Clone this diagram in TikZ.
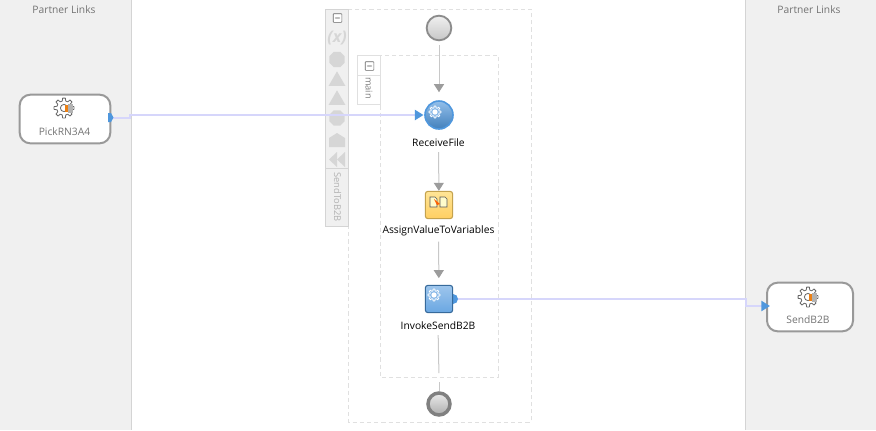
\documentclass[tikz,border=0pt]{standalone}
\usepackage{fontspec}
\setmainfont{Open Sans}
\usetikzlibrary{arrows.meta,shapes.geometric}
\definecolor{panelbg}{HTML}{F0F0F0}
\definecolor{panelline}{HTML}{D4D4D4}
\definecolor{dashline}{HTML}{E0E0E0}
\definecolor{wire}{HTML}{D6D6FB}
\definecolor{wiretip}{HTML}{4F97DD}
\definecolor{flowline}{HTML}{C8C8C8}
\definecolor{flowtip}{HTML}{9C9C9C}
\definecolor{icongray}{HTML}{D6D6D6}
\definecolor{assignedge}{HTML}{C4A24E}
\definecolor{assigntop}{HTML}{FFE596}
\definecolor{assignbot}{HTML}{FFCF62}
\tikzset{
  x=0.75pt,y=-0.75pt,
  panel/.style={fill=panelbg,draw=none},
  sideline/.style={draw=panelline,line width=0.75pt},
  scopebox/.style={draw=dashline,line width=0.7pt,dash pattern=on 3.2pt off 2.2pt},
  tabbox/.style={draw=panelline,fill=panelbg,line width=0.75pt},
  tabwhite/.style={draw=dashline,fill=white,line width=0.75pt},
  linkbox/.style={draw=black!40,line width=1.5pt,rounded corners=8pt,fill=white,minimum width=68pt,minimum height=36.5pt,inner sep=0pt},
  txt/.style={font=\fontsize{7.7pt}{9pt}\selectfont,text=black,inner sep=0pt},
  graytxt/.style={font=\fontsize{7.7pt}{9pt}\selectfont,text=black!55,inner sep=0pt},
  sidetxt/.style={font=\fontsize{7pt}{9pt}\selectfont,text=black!30,inner sep=0pt,rotate=-90},
  startev/.style={circle,draw=black!45,line width=1.4pt,top color=black!6,bottom color=black!22,minimum size=18.5pt,inner sep=0pt},
  endev/.style={circle,draw=black!50,line width=2.6pt,top color=black!8,bottom color=black!32,minimum size=16.5pt,inner sep=0pt},
  recv/.style={circle,draw=wiretip,line width=1.2pt,top color=wiretip!62,bottom color=wiretip!85!black,minimum size=21pt,inner sep=0pt},
  invokebox/.style={draw=wiretip!70!black,line width=0.8pt,rounded corners=2pt,top color=wiretip!55,bottom color=wiretip!85,minimum size=20.5pt,inner sep=0pt},
  assignbox/.style={draw=assignedge,line width=0.8pt,rounded corners=2pt,top color=assigntop,bottom color=assignbot,minimum size=20.5pt,inner sep=0pt},
  portdot/.style={circle,fill=wiretip,draw=none,minimum size=7.5pt,inner sep=0pt},
  flow/.style={draw=flowline,line width=0.75pt},
  flowarrow/.style={flow,-{Triangle[width=7.5pt,length=6pt,color=flowtip]}},
  wireline/.style={draw=wire,line width=2pt},
  wirearrow/.style={wireline,-{Triangle[width=7.5pt,length=6.5pt,color=wiretip]}},
  minusbox/.style={draw=black!60,fill=white,line width=0.5pt,minimum size=6.5pt,inner sep=0pt,rounded corners=0.5pt,path picture={\fill[black!70] ([xshift=-2pt,yshift=-0.35pt]path picture bounding box.center) rectangle ++(4pt,0.7pt);}},
  sideicon/.style={fill=icongray,draw=none,inner sep=0pt},
}
\newcommand{\gearshape}[5]{% x, y, outer radius, draw colour, fill colour
  \begin{scope}[shift={(#1,#2)}]
  \draw[draw=#4,fill=#5,line width=0.6pt,line join=round]
    (-14:#3*0.72)
    \foreach \a in {0,45,...,315}{ -- ({\a-14}:#3*0.72) -- ({\a-8}:#3) -- ({\a+8}:#3) -- ({\a+14}:#3*0.72)} -- cycle;
  \draw[draw=#4,fill=white,line width=0.6pt] (0,0) circle[radius=#3*0.36];
  \end{scope}
}
\begin{document}
\begin{tikzpicture}
\useasboundingbox (0,0) rectangle (876,430);
\fill[white] (0,0) rectangle (876,430);
\fill[panel] (0,0) rectangle (131,430);
\fill[panel] (745,0) rectangle (876,430);
\draw[sideline] (131,0) -- (131,430);
\draw[sideline] (745,0) -- (745,430);
\node[graytxt] (plleft) at (64,9.5) {Partner Links};
\node[graytxt] (plright) at (809,9.5) {Partner Links};

% scopes
\draw[scopebox] (348,9) rectangle (531,422);
\draw[tabbox] (325,9) rectangle (348,226);
\draw[sideline] (325,168) -- (348,168);
\node[sidetxt] (scopename) at (337.5,197) {SendToB2B};
\draw[scopebox] (380,55) rectangle (498,377);
\draw[tabwhite] (357,55) rectangle (380,104);
\draw[dashline,line width=0.75pt] (357,75) -- (380,75);
\node[sidetxt,text=black!50] (mainname) at (369,88) {main};
\node[minusbox] (minusa) at (337.5,18) {};
\node[minusbox] (minusb) at (369.5,66) {};

% sidebar icons
\node[font=\bfseries\itshape\fontsize{12pt}{12pt}\selectfont,text=icongray,inner sep=0pt] (iconvars) at (337,38.5) {(x)};
\node[sideicon,regular polygon,regular polygon sides=8,minimum size=12.5pt] (iconcorr) at (337,59.5) {};
\node[sideicon,regular polygon,regular polygon sides=3,minimum size=14.5pt] (icontria) at (337,81) {};
\node[sideicon,regular polygon,regular polygon sides=3,minimum size=14.5pt] (icontrib) at (337,100) {};
\node[sideicon,regular polygon,regular polygon sides=8,minimum size=12.5pt] (iconoct) at (337,118) {};
\fill[icongray] (329,138) -- (337,133) -- (345,138) -- (345,147) -- (329,147) -- cycle;
\fill[icongray] (337,152) -- (337,167) -- (329,159.5) -- cycle;
\fill[icongray] (345,152) -- (345,167) -- (337,159.5) -- cycle;

% activities
\node[startev] (start) at (439,28) {};
\node[recv] (receive) at (439,115) {};
\node[txt] (receivelbl) at (438.5,142.5) {ReceiveFile};
\node[assignbox] (assign) at (439,205) {};
\node[txt] (assignlbl) at (438.5,231) {AssignValueToVariables};
\node[portdot] (invokeport) at (453,299) {};
\node[invokebox] (invoke) at (439,299) {};
\node[txt] (invokelbl) at (438,325.5) {InvokeSendB2B};
\node[endev] (stop) at (439,404) {};
\coordinate (mainbottom) at (439,377);

\gearshape{435}{112}{6}{white}{wiretip!65}
\gearshape{434}{295}{6}{white}{wiretip!65}
% assign icon
\draw[draw=black!65,fill=yellow!20,line width=0.4pt] (430,197) -- (435,197) -- (437,199) -- (437,207) -- (430,207) -- cycle;
\draw[draw=black!65,fill=yellow!20,line width=0.4pt] (440,197) -- (445,197) -- (447,199) -- (447,207) -- (440,207) -- cycle;
\fill[orange!75!red] (434,199) -- (440,204) -- (437,205) -- cycle;

% flow connectors
\draw[flowarrow,shorten <=3pt,shorten >=6pt] (start) -- (receive);
\draw[flowarrow,shorten <=4pt] (receivelbl) -- (assign);
\draw[flowarrow,shorten <=4pt,shorten >=5pt] (assignlbl) -- (invoke);
\draw[flow,shorten <=4pt,shorten >=3pt] (invokelbl) -- (mainbottom);
\draw[flow] (mainbottom) ++(0,5) -- (stop);

% partner links
\node[linkbox] (pick) at (65,119) {};
\node[graytxt] (picklbl) at (64.5,131.5) {PickRN3A4};
\node[linkbox,minimum width=64.5pt] (send) at (810,307) {};
\node[graytxt] (sendlbl) at (808,319.5) {SendB2B};
\gearshape{64}{108}{10}{black!60}{white}
\gearshape{808}{297}{10}{black!60}{white}
\fill[black!30] (68,104) rectangle (73,113);
\fill[orange!70!brown] (65,105) rectangle (68,112);
\fill[black!30] (812,293) rectangle (817,302);
\fill[orange!70!brown] (809,294) rectangle (812,301);

% wires
\coordinate (bendone) at (130,118);
\coordinate (bendtwo) at (130,115);
\coordinate (bendthree) at (746,299);
\coordinate (bendfour) at (746,306);
\draw[wirearrow,shorten >=0.5pt] (pick.east|-bendone) -- (bendone) -- (bendtwo) -- (receive.west|-bendtwo);
\draw[wirearrow,shorten >=-3pt] (invokeport.east|-bendthree) -- (bendthree) -- (bendfour) -- (send.west|-bendfour);
\fill[wiretip] (108,113) -- (111,113) -- (113.5,117.5) -- (111,122) -- (108,122) -- cycle;
\end{tikzpicture}
\end{document}
